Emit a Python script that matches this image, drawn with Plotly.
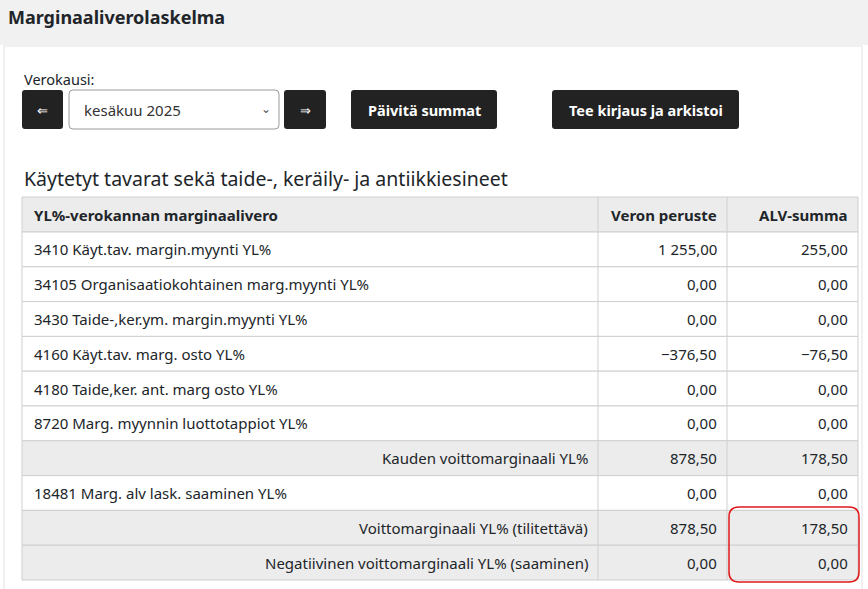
import plotly.graph_objects as go

title = "Marginaaliverolaskelma"
period_label = "Verokausi:"
period = "kesäkuu 2025"
buttons = ["Päivitä summat", "Tee kirjaus ja arkistoi"]
section = "Käytetyt tavarat sekä taide-, keräily- ja antiikkiesineet"
headers = ["YL%-verokannan marginaalivero", "Veron peruste", "ALV-summa"]
row_labels = ["3410 Käyt.tav. margin.myynti YL%",
              "34105 Organisaatiokohtainen marg.myynti YL%",
              "3430 Taide-,ker.ym. margin.myynti YL%",
              "4160 Käyt.tav. marg. osto YL%",
              "4180 Taide,ker. ant. marg osto YL%",
              "8720 Marg. myynnin luottotappiot YL%",
              "Kauden voittomarginaali YL%",
              "18481 Marg. alv lask. saaminen YL%",
              "Voittomarginaali YL% (tilitettävä)",
              "Negatiivinen voittomarginaali YL% (saaminen)"]
veron_peruste = ["1 255,00", "0,00", "0,00", "−376,50", "0,00", "0,00", "878,50", "0,00", "878,50", "0,00"]
alv_summa = ["255,00", "0,00", "0,00", "−76,50", "0,00", "0,00", "178,50", "0,00", "178,50", "0,00"]
summary_rows = [6, 8, 9]

W, H = 868, 589
FONT = "Noto Sans"
shapes, ann = [], []

def rect(x0, y0, x1, y1, fill, line=None, lw=1):
    shapes.append(dict(type="rect", x0=x0, y0=y0, x1=x1, y1=y1, fillcolor=fill,
                       line=dict(color=line or fill, width=lw if line else 0), layer="below"))

def rrect(x0, y0, x1, y1, r, fill, line=None, lw=1):
    p = (f"M{x0+r},{y0} L{x1-r},{y0} Q{x1},{y0} {x1},{y0+r} L{x1},{y1-r} Q{x1},{y1} {x1-r},{y1} "
         f"L{x0+r},{y1} Q{x0},{y1} {x0},{y1-r} L{x0},{y0+r} Q{x0},{y0} {x0+r},{y0} Z")
    shapes.append(dict(type="path", path=p, fillcolor=fill,
                       line=dict(color=line or fill, width=lw if line else 0)))

def text(x, y, s, size=14.5, color="#212529", anchor="left", bold=False):
    ann.append(dict(x=x, y=y, text=f"<b>{s}</b>" if bold else s, showarrow=False,
                    xanchor=anchor, yanchor="middle", font=dict(family=FONT, size=size, color=color)))

rect(0, 0, W, 45, "#f1f1f1")
rect(4, 46, 862, 600, "#ffffff", "#e3e3e3")
text(6, 17, title, size=18, bold=True)

text(22, 79, period_label, size=14.5)
rrect(22, 90, 63, 129, 3, "#222222")
text(42.5, 110, "⇐", size=13, color="white", anchor="center")
rrect(69, 90, 279, 129, 4, "#ffffff", "#9a9a9a")
text(82, 110, period, size=15, color="#333")
text(266, 108, "⌄", size=12, color="#555", anchor="center")
rrect(284, 90, 326, 129, 3, "#222222")
text(305, 110, "⇒", size=13, color="white", anchor="center")
rrect(351, 90, 497, 129, 3, "#222222")
text(424, 110, buttons[0], size=14.5, color="white", anchor="center", bold=True)
rrect(552, 90, 739, 129, 3, "#222222")
text(645.5, 110, buttons[1], size=14.5, color="white", anchor="center", bold=True)

text(22, 178, section, size=19.5)

xs = [22, 598, 727, 858]
top, hh = 197, 35
rh = (580 - 232) / len(row_labels)
rect(xs[0], top, xs[3], top + hh, "#ececec", "#cfcfcf")
text(32, top + hh / 2, headers[0], size=15, bold=True)
text(xs[2] - 8, top + hh / 2, headers[1], size=15, anchor="right", bold=True)
text(xs[3] - 8, top + hh / 2, headers[2], size=15, anchor="right", bold=True)
for i, lab in enumerate(row_labels):
    y0 = 232 + i * rh
    fill = "#ececec" if i in summary_rows else "#ffffff"
    rect(xs[0], y0, xs[3], y0 + rh, fill, "#cfcfcf")
    ym = y0 + rh / 2
    if i in summary_rows:
        text(xs[1] - 8, ym, lab, size=15, anchor="right")
    else:
        text(32, ym, lab, size=15)
    text(xs[2] - 8, ym, veron_peruste[i], size=15, anchor="right")
    text(xs[3] - 8, ym, alv_summa[i], size=15, anchor="right")
for x in xs[1:3]:
    shapes.append(dict(type="line", x0=x, x1=x, y0=top, y1=580, line=dict(color="#cfcfcf", width=1), layer="below"))

rrect(729, 507, 859, 582, 10, "rgba(0,0,0,0)", "#e01818", 1.5)

fig = go.Figure()
fig.update_layout(width=W, height=H, margin=dict(l=0, r=0, t=0, b=0),
                  paper_bgcolor="white", plot_bgcolor="white",
                  xaxis=dict(range=[0, W], visible=False, fixedrange=True),
                  yaxis=dict(range=[H, 0], visible=False, fixedrange=True),
                  shapes=shapes, annotations=ann, showlegend=False)
fig.write_html("out.html", config={"displayModeBar": False})
with open("out.html", encoding="utf-8") as f:
    html = f.read()
html = html.replace("<head>", "<head><style>html,body{margin:0;padding:0;overflow:hidden;}</style>", 1)
with open("out.html", "w", encoding="utf-8") as f:
    f.write(html)
